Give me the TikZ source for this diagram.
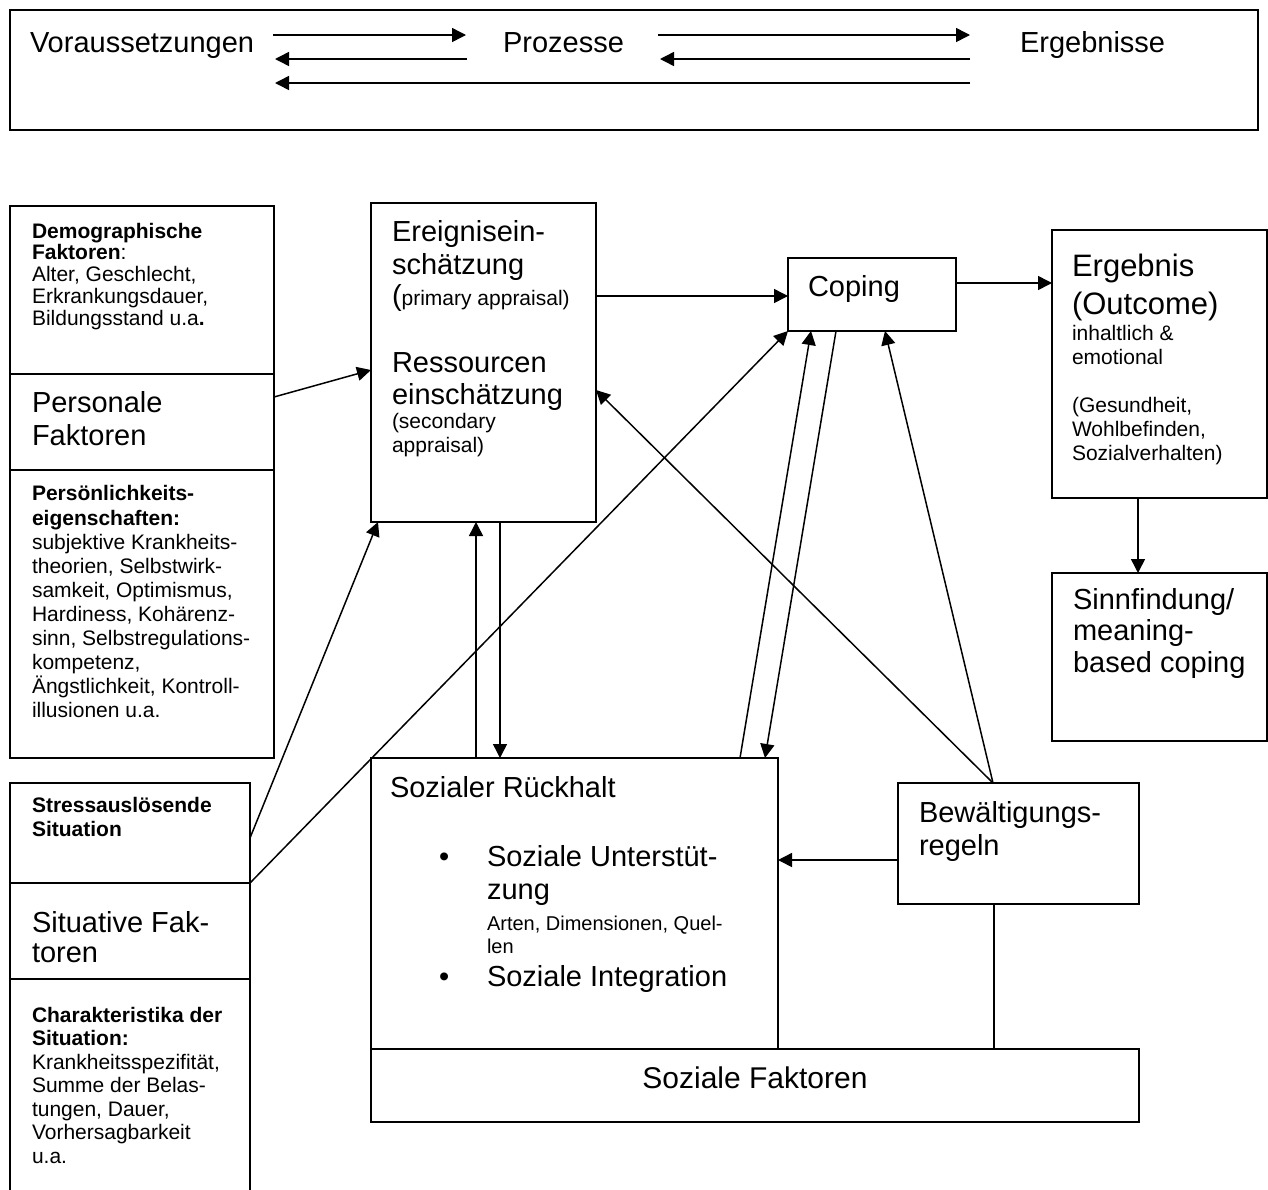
\documentclass[tikz,border=0pt]{standalone}
\usepackage{fontspec}
\setmainfont{Liberation Sans}
\usetikzlibrary{arrows.meta,calc}
\newcommand\myfs[2]{\fontsize{#1pt}{#2pt}\selectfont}
\begin{document}
\begin{tikzpicture}[x=1pt,y=-1pt,
  box/.style={draw, line width=1.8pt, inner sep=0pt, outer sep=0pt, anchor=north west},
  txt/.style={inner sep=0pt, outer sep=0pt, align=left, anchor=north west},
  btxt/.style={inner sep=0pt, outer sep=0pt, anchor=base west},
  arr/.style={line width=1.5pt, -{Triangle[length=14pt,width=14pt]}},
  ln/.style={line width=1.5pt}]
\useasboundingbox (0,0) rectangle (1268,1189);

% ---------- top bar ----------
\node[box, minimum width=1248pt, minimum height=120pt] (T) at (10,10) {};
\node[btxt, font=\myfs{29}{33}] (tV) at (30,52) {Voraussetzungen};
\node[btxt, font=\myfs{29}{33}] (tP) at (503,52) {Prozesse};
\node[btxt, font=\myfs{29}{33}] (tE) at (1020,52) {Ergebnisse};
\coordinate (r1a) at (273,35);  \coordinate (r1b) at (466,35);
\coordinate (r2a) at (467,59);  \coordinate (r2b) at (275,59);
\coordinate (r3a) at (658,35);  \coordinate (r3b) at (970,35);
\coordinate (r4a) at (970,59);  \coordinate (r4b) at (660,59);
\coordinate (r5a) at (970,83);  \coordinate (r5b) at (275,83);
\draw[arr] (r1a) -- (r1b);
\draw[arr] (r2a) -- (r2b);
\draw[arr] (r3a) -- (r3b);
\draw[arr] (r4a) -- (r4b);
\draw[arr] (r5a) -- (r5b);

% ---------- boxes ----------
\node[box, minimum width=264pt, minimum height=168pt] (A1) at (10,206) {};
\node[box, minimum width=264pt, minimum height=96pt]  (A2) at (10,374) {};
\node[box, minimum width=264pt, minimum height=288pt] (A3) at (10,470) {};
\node[box, minimum width=240pt, minimum height=100pt] (B1) at (10,783) {};
\node[box, minimum width=240pt, minimum height=96pt]  (B2) at (10,883) {};
\node[box, minimum width=240pt, minimum height=240pt] (B3) at (10,979) {};
\node[box, minimum width=225pt, minimum height=319pt] (C) at (371,203) {};
\node[box, minimum width=168pt, minimum height=73pt]  (D) at (788,258) {};
\node[box, minimum width=215pt, minimum height=268pt] (E) at (1052,230) {};
\node[box, minimum width=215pt, minimum height=168pt] (F) at (1052,573) {};
\node[box, minimum width=407pt, minimum height=291pt] (G) at (371,758) {};
\node[box, minimum width=241pt, minimum height=121pt] (H) at (898,783) {};
\node[box, minimum width=768pt, minimum height=73pt]  (SF) at (371,1049) {};

% ---------- texts ----------
\node[txt, font=\myfs{21}{21.7}] (tDemo) at (32,223)
  {\textbf{Demographische}\\\textbf{Faktoren}:\\Alter, Geschlecht,\\Erkrankungsdauer,\\Bildungsstand u.a\textbf{.}};
\node[txt, font=\myfs{29}{33}] (tPers) at (32,391) {Personale\\Faktoren};
\node[txt, font=\myfs{21}{24}] (tPk) at (32,485)
  {\textbf{Persönlichkeits-}\\[1pt]\textbf{eigenschaften:}\\subjektive Krankheits-\\theorien, Selbstwirk-\\samkeit, Optimismus,\\Hardiness, Kohärenz-\\sinn, Selbstregulations-\\kompetenz,\\Ängstlichkeit, Kontroll-\\illusionen u.a.};
\node[txt, font=\myfs{21}{24.5}] (tStress) at (32,797)
  {\textbf{Stressauslösende}\\\textbf{Situation}};
\node[txt, font=\myfs{29}{30}] (tSit) at (32,911) {Situative Fak-\\toren};
\node[txt, font=\myfs{21}{23.5}] (tChar) at (32,1007)
  {\textbf{Charakteristika der}\\\textbf{Situation:}\\Krankheitsspezifität,\\Summe der Belas-\\tungen, Dauer,\\Vorhersagbarkeit\\u.a.};

\node[txt, font=\myfs{29}{33}] (tC1) at (392,220) {Ereignisein-\\schätzung};
\node[btxt, font=\myfs{21}{24}] (tC1b) at (392,305) {{\myfs{29}{33}(}primary appraisal)};
\node[txt, font=\myfs{29}{32}] (tC2) at (392,353) {Ressourcen\\einschätzung};
\node[txt, font=\myfs{21}{24}] (tC2b) at (392,413) {(secondary\\appraisal)};

\node[btxt, font=\myfs{29}{33}] (tD) at (808,296) {Coping};

\node[txt, font=\myfs{31}{38}] (tE1) at (1072,254) {Ergebnis\\(Outcome)};
\node[txt, font=\myfs{21}{24}] (tE2) at (1072,325)
  {inhaltlich \&\\emotional\\[24pt](Gesundheit,\\Wohlbefinden,\\Sozialverhalten)};

\node[txt, font=\myfs{29}{31.5}] (tF) at (1073,588) {Sinnfindung/\\meaning-\\based coping};

\node[btxt, font=\myfs{29}{33}] (tG1) at (390,797) {Sozialer Rückhalt};
\node[btxt, font=\myfs{29}{33}] (bul1) at (439,866) {•};
\node[txt, font=\myfs{29}{33}] (tG2) at (487,845) {Soziale Unterstüt-\\zung};
\node[txt, font=\myfs{20}{22.5}] (tG3) at (487,916) {Arten, Dimensionen, Quel-\\len};
\node[btxt, font=\myfs{29}{33}] (bul2) at (439,986) {•};
\node[btxt, font=\myfs{29}{33}] (tG4) at (487,986) {Soziale Integration};

\node[txt, font=\myfs{29}{33}] (tH) at (919,801) {Bewältigungs-\\regeln};

\node[inner sep=0pt, anchor=base, font=\myfs{30}{33}] (tSF) at (755,1088) {Soziale Faktoren};

% ---------- connectors ----------
\draw[arr] ([yshift=25pt]A2.east) -- ([yshift=-7.5pt]C.west);
\draw[arr] ([yshift=-5pt]B1.east) -- ([xshift=7pt]C.south west);
\draw[arr] (B1.south east) -- (D.south west);
\draw[arr] ([xshift=105pt]G.north west) -- ([xshift=105pt]C.south west);
\draw[arr] ([xshift=129pt]C.south west) -- ([xshift=129pt]G.north west);
\draw[arr] ([xshift=369pt]G.north west) -- ([xshift=23pt]D.south west);
\draw[arr] ([xshift=48pt]D.south west) -- ([xshift=394pt]G.north west);
\draw[arr] ([xshift=95pt]H.north west) -- ([xshift=97pt]D.south west);
\draw[arr] ([xshift=95pt]H.north west) -- ([yshift=-27.5pt]C.east);
\draw[arr] ([yshift=-16.5pt]H.west) -- ([yshift=43.5pt]G.east);
\draw[ln] ([xshift=96pt]H.south west) -- ([xshift=623pt]SF.north west);
\draw[arr] ([xshift=86pt]E.south west) -- ([xshift=86pt]F.north west);
\draw[arr] ([yshift=66.5pt]C.east) -- ([yshift=-1.5pt]D.west);
\draw[arr] ([yshift=11.5pt]D.east) -- ([yshift=81pt]E.west);
\end{tikzpicture}
\end{document}
